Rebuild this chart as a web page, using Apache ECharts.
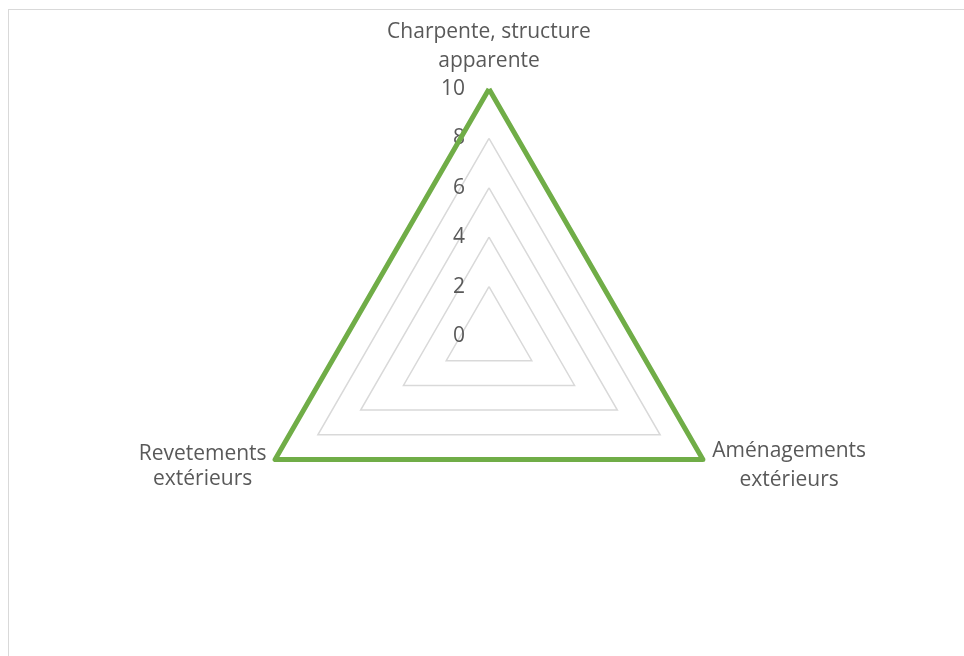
<!DOCTYPE html>
<html>
<head>
<meta charset="utf-8">
<script src="https://cdn.jsdelivr.net/npm/echarts@6/dist/echarts.min.js"></script>
<style>
html,body{margin:0;padding:0;background:#fff;overflow:hidden;}
#wrap{position:relative;width:964px;height:656px;overflow:hidden;}
#frame{position:absolute;left:8px;top:9px;width:1100px;height:800px;border:1px solid #d9d9d9;box-sizing:border-box;}
#chart{position:absolute;left:0;top:0;width:964px;height:656px;}
</style>
</head>
<body>
<div id="wrap"><div id="frame"></div><div id="chart"></div></div>
<script>
// Data
const categories = ['Charpente, structure\napparente', 'Revetements\nextérieurs', 'Aménagements\nextérieurs'];
const seriesValues = [10, 10, 10];
const axisMax = 10;
const tickLabels = ['0', '2', '4', '6', '8', '10'];

const FONT = '"Open Sans", "Liberation Sans", sans-serif';
const TXT = '#595959';

function nameRich(t) {
  const style = t.indexOf('Revetements') === 0 ? 'b' : 'a';
  return t.split('\n').map((s, i) => '{' + (style === 'b' && i === 0 ? 'b0' : style) + '|' + s + '}').join('\n');
}

const indicator = categories.map((c, i) => {
  const ind = { name: c, max: axisMax, min: 0 };
  if (i !== 0) ind.axisLabel = { show: false };
  return ind;
});
indicator[0].nameGap = 13;
indicator[1].nameGap = 4;
indicator[2].nameGap = 13;

const base = { color: TXT, fontFamily: FONT, fontSize: 21, lineHeight: 29 };

const chart = echarts.init(document.getElementById('chart'), null, { renderer: 'canvas' });
chart.setOption({
  animation: false,
  radar: {
    center: [489, 336],
    radius: 247,
    startAngle: 90,
    shape: 'polygon',
    splitNumber: 5,
    indicator: indicator,
    axisName: {
      color: TXT,
      fontFamily: FONT,
      fontSize: 21,
      lineHeight: 29,
      formatter: function (v) { return nameRich(v); },
      rich: {
        a: Object.assign({ width: 150, align: 'center' }, base),
        b: Object.assign({ width: 138, align: 'center' }, base),
        b0: Object.assign({}, base, { width: 138, align: 'center', lineHeight: 36, verticalAlign: 'bottom' })
      }
    },
    axisLine: { show: false },
    axisTick: { show: false },
    axisLabel: {
      show: true,
      color: TXT,
      fontFamily: FONT,
      fontSize: 21,
      margin: 24,
      formatter: function (v) { return tickLabels[Math.round(v / 2)] ?? String(v); }
    },
    splitLine: { lineStyle: { color: '#d9d9d9', width: 1.5 } },
    splitArea: { show: false }
  },
  series: [{
    type: 'radar',
    symbol: 'none',
    lineStyle: { color: '#70AD47', width: 5, join: 'round' },
    itemStyle: { color: '#70AD47' },
    data: [{ value: seriesValues, name: 'Série1' }]
  }]
});
</script>
</body>
</html>
